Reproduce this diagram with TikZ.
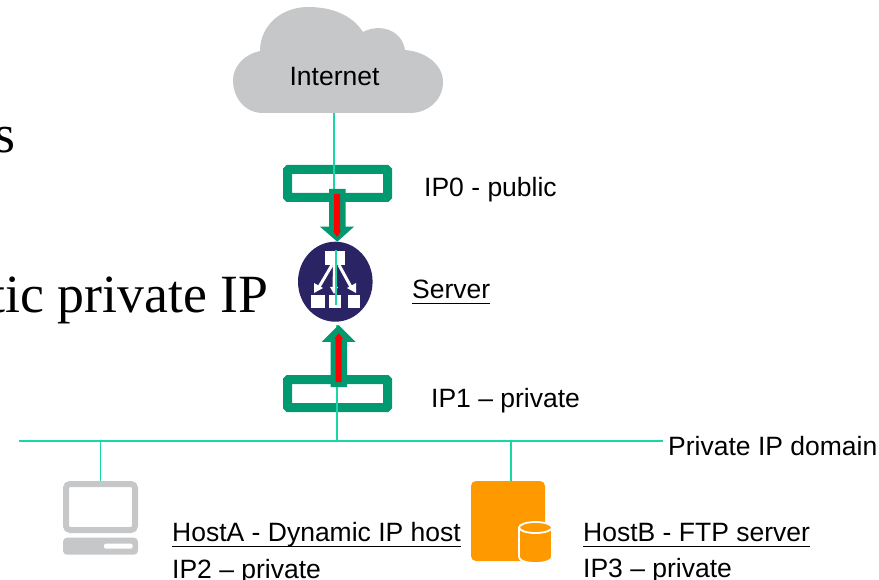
\documentclass[tikz,border=0pt]{standalone}
\usepackage{fontspec}
\setmainfont{Liberation Sans}
\newfontfamily\serifface{Liberation Serif}
\definecolor{wire}{HTML}{1AD6A4}
\definecolor{nicgreen}{HTML}{01996F}
\definecolor{cloudgrey}{HTML}{C6C7C9}
\definecolor{navy}{HTML}{2A2364}
\definecolor{hostorange}{HTML}{FF9900}
\tikzset{
  wireline/.style={draw=wire,line width=1.9pt},
  nic/.style={draw=nicgreen,line width=9pt,rounded corners=1pt},
  blockarrow/.style={fill=nicgreen,draw=none},
  redline/.style={fill=red,draw=none},
  label/.style={anchor=base west,inner sep=0pt,font=\fontsize{26.5}{30}\selectfont,text=black},
  bigserif/.style={anchor=base east,inner sep=0pt,font=\serifface\fontsize{53.8}{60}\selectfont,text=black},
  ruleline/.style={draw=black,line width=1pt},
  iconline/.style={draw=white,line width=3pt},
  iconbox/.style={fill=white,draw=none},
  hostgrey/.style={fill=cloudgrey,draw=none}
}
\begin{document}
\begin{tikzpicture}[x=1pt,y=-1pt]
\useasboundingbox (0,0) rectangle (879,580);
% slide text behind the diagram, cut by the picture's left edge
\begin{scope}
\clip (0,0) rectangle (879,580);
\node[bigserif] (slideA) at (16,153) {s};
\node[bigserif] (slideB) at (268.5,313) {tic private IP};
\end{scope}
% cloud
\fill[cloudgrey] (263,113) .. controls (245,113) and (233,98) .. (233,80)
  .. controls (233,66) and (245,54) .. (260,51)
  .. controls (260,25) and (282,7) .. (308,7)
  .. controls (332,7) and (352,15) .. (363,32)
  .. controls (380,23) and (402,30) .. (405,50)
  .. controls (428,52) and (443,66) .. (443,82)
  .. controls (443,100) and (428,113) .. (410,113) -- cycle;
\node[label,anchor=center] (internet) at (334.5,77) {Internet};
\coordinate (cloudfoot) at (334,113);
\coordinate (topmid) at (334,190);
% NIC boxes
\draw[nic] (287.5,169.5) rectangle (387.5,197.5);
\draw[nic] (287.5,379.5) rectangle (387.5,407.5);
% wires
\draw[wireline] (cloudfoot) -- (topmid);
% server
\fill[navy] (335.3,281.7) ellipse [x radius=37.3, y radius=40];
% server icon
\fill[iconbox] (325.3,251) rectangle (345.3,265);
\fill[iconbox] (310.7,295) rectangle (325.3,307.7);
\fill[iconbox] (329.3,295) rectangle (340.7,307.7);
\fill[iconbox] (348.3,295) rectangle (359.7,307.7);
\draw[iconline] (332,265) -- (319,287);
\draw[iconline] (334.5,265) -- (334,288);
\draw[iconline] (339,265) -- (351,287);
\fill[iconbox] (314,293) -- (314,283) -- (323,288) -- cycle;
\fill[iconbox] (330,287) -- (338,287) -- (334,294) -- cycle;
\fill[iconbox] (356,293) -- (356,283) -- (347,288) -- cycle;
% main vertical wire
\coordinate (busdrop) at (337,441);
\draw[wireline] (336,250) -- (336,305);
\draw[wireline] (337,325) -- (busdrop);
% arrows
\fill[blockarrow] (329,189) -- (345.7,189) -- (345.7,226.7) -- (354,226.7) -- (337.3,241.7)
  -- (320,226.7) -- (329,226.7) -- cycle;
\fill[redline] (334,194) -- (340,194) -- (340,231) -- (341,231) -- (337,237) -- (333,231) -- (334,231) -- cycle;
\fill[blockarrow] (330.7,387) -- (347,387) -- (347,342) -- (355.7,342) -- (338.7,325)
  -- (321.7,342) -- (330.7,342) -- cycle;
\fill[redline] (335.7,382) -- (341.7,382) -- (341.7,339) -- (343,339) -- (338.7,333) -- (334.5,339) -- (335.7,339) -- cycle;
% bus
\coordinate (busL) at (19,441);
\coordinate (busR) at (663,441);
\draw[wireline] (busL) -- (busR);
% host A
\coordinate (dropA) at (100.5,441);
\coordinate (hostAtop) at (100.5,481);
\draw[wireline] (dropA) -- (hostAtop);
\draw[draw=cloudgrey,line width=6pt,rounded corners=4pt] (66,484) rectangle (135,530);
\fill[hostgrey,rounded corners=4pt] (63,537.7) rectangle (138,554.7);
\fill[white,rounded corners=2pt] (104,543.7) rectangle (132.7,548.7);
% host B
\coordinate (dropB) at (511,441);
\coordinate (hostBtop) at (511,481);
\draw[wireline] (dropB) -- (hostBtop);
\fill[hostorange,rounded corners=5pt] (471,481) rectangle (545,561);
\filldraw[fill=hostorange,draw=white,line width=1.8pt]
  (519,528) -- (519,557) .. controls (519,565) and (552,565) .. (552,557) -- (552,528) -- cycle;
\filldraw[fill=hostorange,draw=white,line width=1.8pt] (535.5,527.5) ellipse [x radius=16.5, y radius=5.5];
% labels
\node[label] (ip0) at (424,197) {IP0 - public};
\node[label] (srv) at (412,299) {Server};
\draw[ruleline] (412,303.5) -- (490,303.5);
\node[label] (ip1) at (431,407) {IP1 – private};
\node[label] (dom) at (668,455) {Private IP domain};
\node[label] (hostA) at (172,541) {HostA - Dynamic IP host};
\draw[ruleline] (172,546) -- (461,546);
\node[label] (ip2) at (172,578) {IP2 – private};
\node[label] (hostB) at (583,541) {HostB - FTP server};
\draw[ruleline] (583,546) -- (810,546);
\node[label] (ip3) at (583,577) {IP3 – private};
\end{tikzpicture}
\end{document}
